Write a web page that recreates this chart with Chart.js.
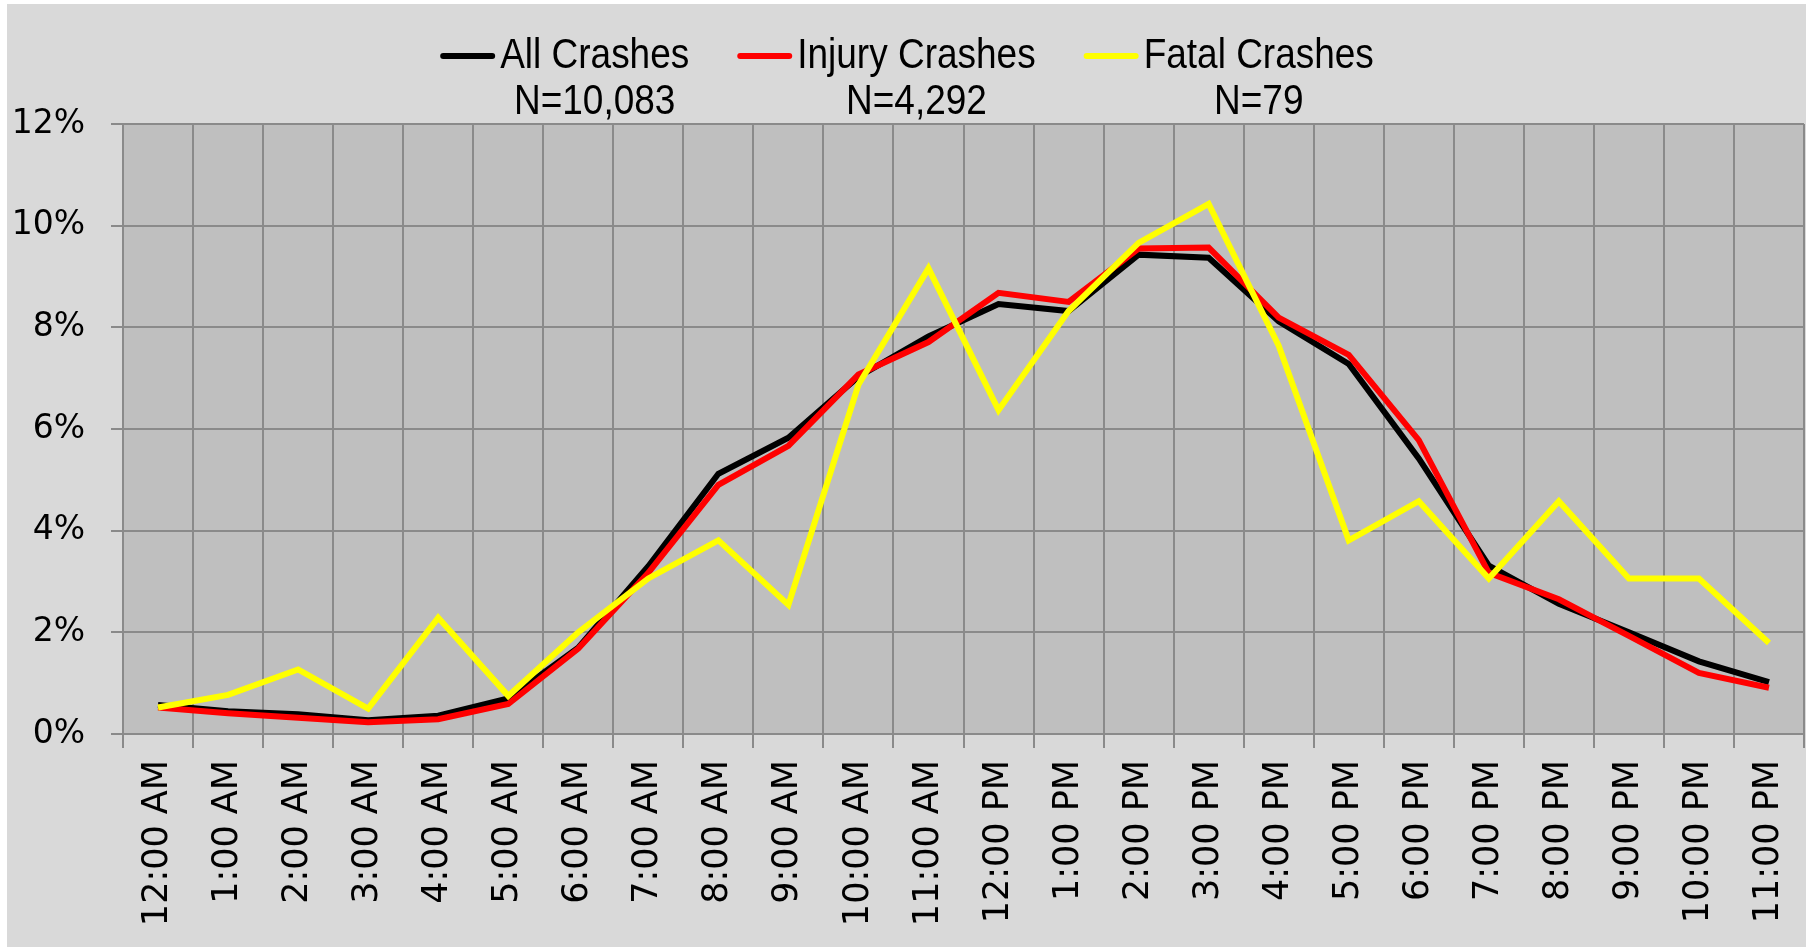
<!DOCTYPE html>
<html lang="en">
<head>
<meta charset="UTF-8">
<title>Crashes by Hour of Day</title>
<script src="https://cdn.jsdelivr.net/npm/chart.js"></script>
<style>
  html, body { margin: 0; padding: 0; background: #ffffff; }
  canvas { display: block; }
</style>
</head>
<body>
<canvas id="crashChart" width="1806" height="947"></canvas>
<script>
// hour of day (categories)
const hours = ['12:00 AM', '1:00 AM', '2:00 AM', '3:00 AM', '4:00 AM', '5:00 AM',
  '6:00 AM', '7:00 AM', '8:00 AM', '9:00 AM', '10:00 AM', '11:00 AM',
  '12:00 PM', '1:00 PM', '2:00 PM', '3:00 PM', '4:00 PM', '5:00 PM',
  '6:00 PM', '7:00 PM', '8:00 PM', '9:00 PM', '10:00 PM', '11:00 PM'];

// share of crashes in each hour, in percent
const allCrashes = [0.57, 0.45, 0.39, 0.27, 0.36, 0.70, 1.70, 3.30, 5.12, 5.83, 7.03, 7.82,
  8.46, 8.32, 9.43, 9.37, 8.12, 7.28, 5.42, 3.31, 2.56, 2.00, 1.43, 1.02];
const injuryCrashes = [0.52, 0.41, 0.32, 0.23, 0.29, 0.59, 1.68, 3.17, 4.90, 5.67, 7.07, 7.71,
  8.68, 8.50, 9.55, 9.57, 8.19, 7.46, 5.78, 3.17, 2.65, 1.93, 1.20, 0.91];
const fatalCrashes = [0.52, 0.77, 1.27, 0.50, 2.29, 0.75, 2.00, 3.06, 3.81, 2.54, 6.87, 9.16,
  6.37, 8.32, 9.66, 10.43, 7.64, 3.81, 4.58, 3.06, 4.58, 3.06, 3.06, 1.79];

const seriesNames = ['All Crashes', 'Injury Crashes', 'Fatal Crashes'];
const seriesCounts = ['N=10,083', 'N=4,292', 'N=79'];
const seriesColors = ['#000000', '#ff0000', '#ffff00'];

const yMin = 0, yMax = 12, yStep = 2;

// backgrounds: grey page + darker plot area
const backdrop = {
  id: 'backdrop',
  beforeDraw(chart) {
    const { ctx, chartArea: a } = chart;
    ctx.save();
    ctx.fillStyle = '#d9d9d9';
    ctx.fillRect(7, 4, chart.width - 7, chart.height - 4);
    ctx.fillStyle = '#bfbfbf';
    ctx.fillRect(a.left, a.top, a.right - a.left, a.bottom - a.top);
    ctx.restore();
  }
};

// legend with the N= counts on a second line (narrow text, like the original)
const twoLineLegend = {
  id: 'twoLineLegend',
  afterDraw(chart) {
    const ctx = chart.ctx;
    const squeeze = 0.86;
    const lineLen = 55, gapText = 5, gapItem = 48;
    const y1 = 56, y2 = 102;
    ctx.save();
    ctx.font = '43px "Liberation Sans Narrow", "Liberation Sans", sans-serif';
    const widths = seriesNames.map(n => ctx.measureText(n).width * squeeze);
    let total = 0;
    widths.forEach(w => { total += lineLen + gapText + w; });
    total += gapItem * (seriesNames.length - 1);
    let x = chart.width / 2 + 4 - total / 2;
    ctx.textBaseline = 'middle';
    seriesNames.forEach((name, i) => {
      ctx.strokeStyle = seriesColors[i];
      ctx.lineWidth = 6;
      ctx.lineCap = 'round';
      ctx.beginPath();
      ctx.moveTo(x + 3, y1);
      ctx.lineTo(x + lineLen - 3, y1);
      ctx.stroke();
      const tx = x + lineLen + gapText;
      ctx.fillStyle = '#000';
      ctx.save();
      ctx.scale(squeeze, 1);
      ctx.textAlign = 'left';
      ctx.fillText(name, tx / squeeze, y1);
      ctx.textAlign = 'center';
      ctx.fillText(seriesCounts[i], (tx + widths[i] / 2) / squeeze, y2);
      ctx.restore();
      x = tx + widths[i] + gapItem;
    });
    ctx.restore();
  }
};

const ctx = document.getElementById('crashChart').getContext('2d');
const crashChart = new Chart(ctx, {
  type: 'line',
  data: {
    labels: hours,
    datasets: [
      { label: seriesNames[0], data: allCrashes, borderColor: seriesColors[0], backgroundColor: seriesColors[0], order: 3 },
      { label: seriesNames[1], data: injuryCrashes, borderColor: seriesColors[1], backgroundColor: seriesColors[1], order: 2 },
      { label: seriesNames[2], data: fatalCrashes, borderColor: seriesColors[2], backgroundColor: seriesColors[2], order: 1 }
    ]
  },
  options: {
    responsive: false,
    animation: false,
    layout: { padding: { top: 124, right: 2, left: 0, bottom: 0 } },
    elements: {
      line: { borderWidth: 6, tension: 0, fill: false, borderJoinStyle: 'miter' },
      point: { radius: 0, hoverRadius: 0 }
    },
    plugins: {
      legend: { display: false },
      tooltip: { enabled: false }
    },
    scales: {
      x: {
        offset: true,
        grid: { offset: true, color: '#8a8a8a', lineWidth: 2, tickLength: 14 },
        border: { color: '#8a8a8a', width: 2 },
        ticks: {
          autoSkip: false, minRotation: 90, maxRotation: 90, padding: 12, color: '#000',
          font: { family: 'DejaVu Sans', size: 35 }
        },
        afterFit(scale) {
          scale.height = 213;
          scale.paddingLeft = 0;
          scale.paddingRight = 0;
        }
      },
      y: {
        min: yMin, max: yMax,
        grid: { color: '#8a8a8a', lineWidth: 2, tickLength: 12 },
        border: { color: '#8a8a8a', width: 2 },
        ticks: {
          stepSize: yStep, padding: 26, color: '#000',
          font: { family: 'DejaVu Sans', size: 33 },
          callback: v => v + '%'
        },
        afterFit(scale) { scale.width = 123; }
      }
    }
  },
  plugins: [backdrop, twoLineLegend]
});
</script>
</body>
</html>
